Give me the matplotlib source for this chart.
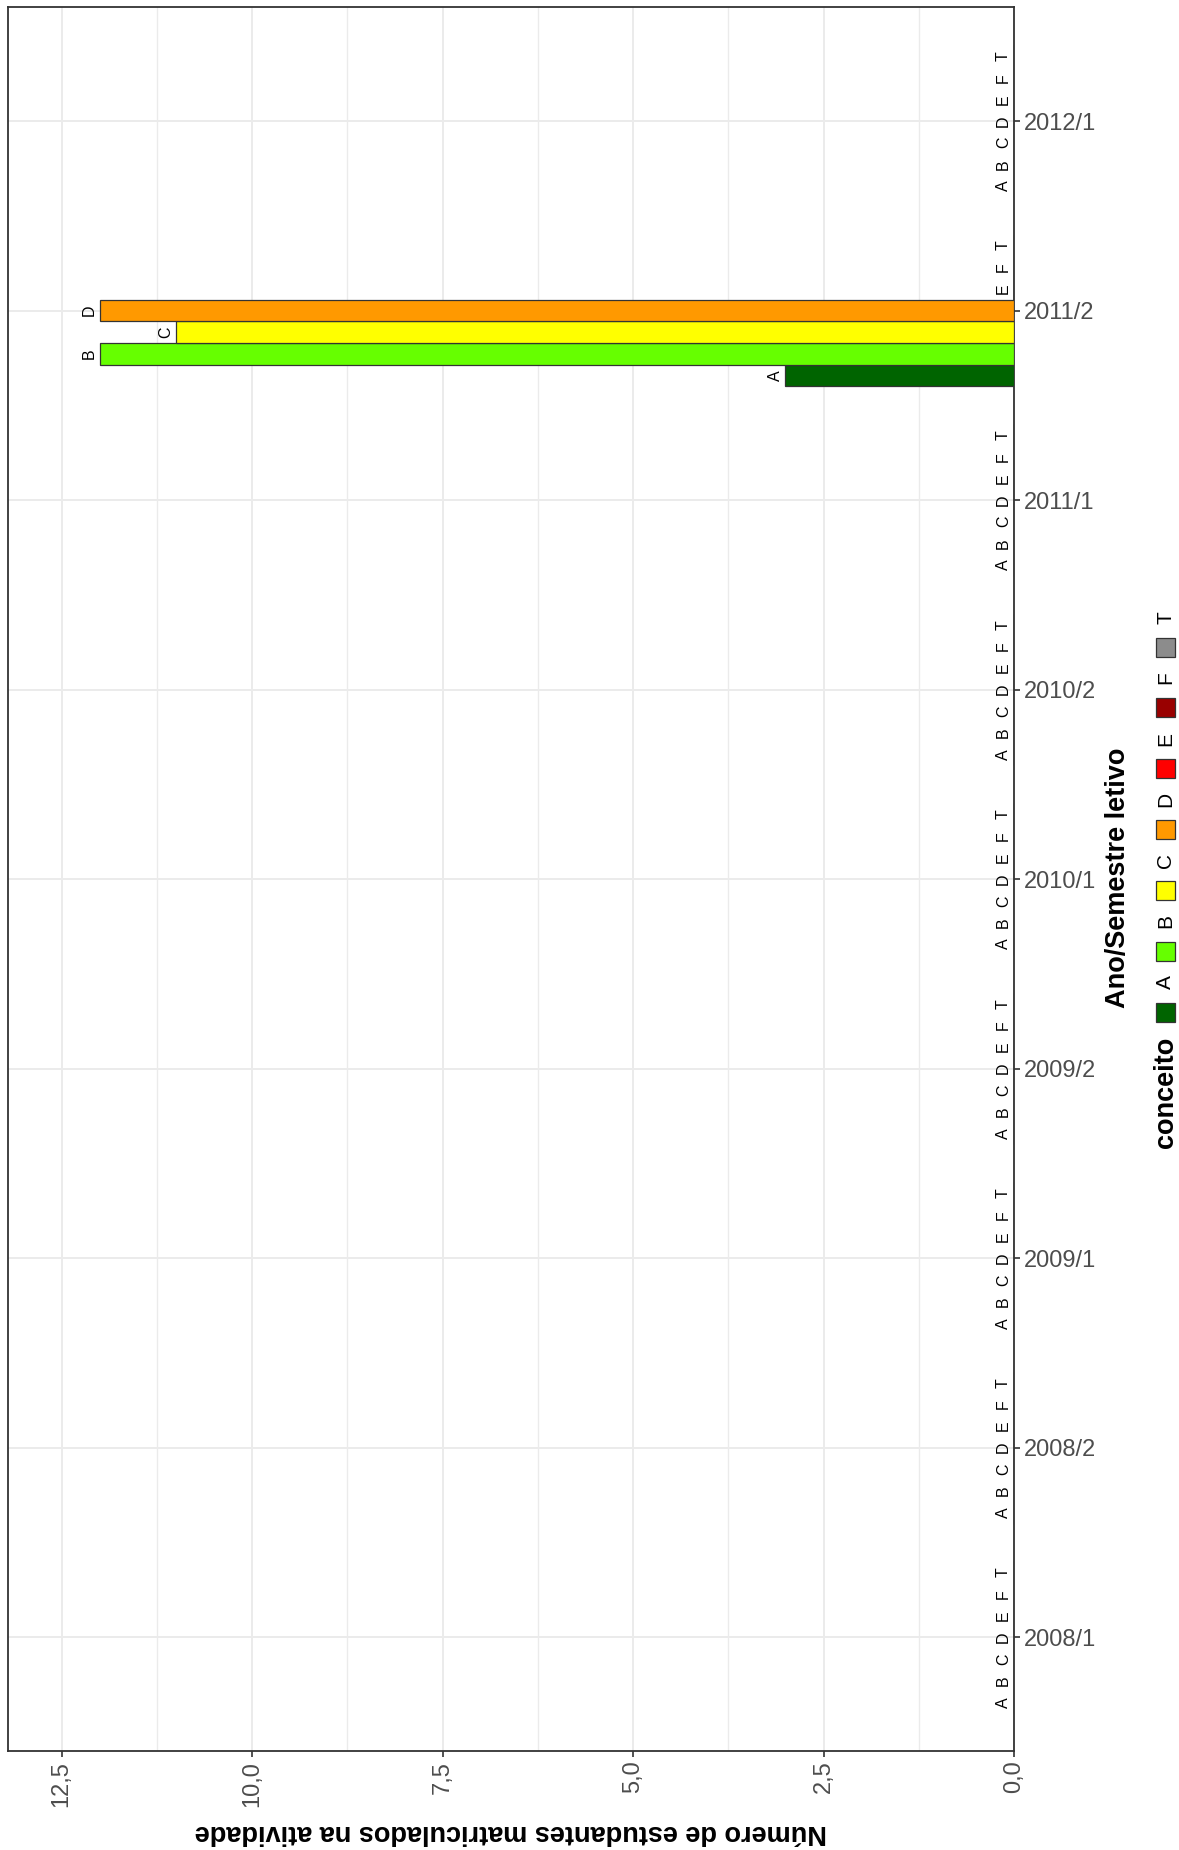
import numpy as np
import matplotlib
matplotlib.use("Agg")
import matplotlib.pyplot as plt
from matplotlib.patches import Rectangle
from matplotlib.ticker import MultipleLocator, FuncFormatter

plt.rcParams['font.family'] = ['Liberation Sans', 'DejaVu Sans']

# ------------------------------------------------------------------
# dados
# ------------------------------------------------------------------
semestres = ['2008/1', '2008/2', '2009/1', '2009/2', '2010/1',
             '2010/2', '2011/1', '2011/2', '2012/1']
conceitos = ['A', 'B', 'C', 'D', 'E', 'F', 'T']

n_A = [0, 0, 0, 0, 0, 0, 0, 3, 0]
n_B = [0, 0, 0, 0, 0, 0, 0, 12, 0]
n_C = [0, 0, 0, 0, 0, 0, 0, 11, 0]
n_D = [0, 0, 0, 0, 0, 0, 0, 12, 0]
n_E = [0, 0, 0, 0, 0, 0, 0, 0, 0]
n_F = [0, 0, 0, 0, 0, 0, 0, 0, 0]
n_T = [0, 0, 0, 0, 0, 0, 0, 0, 0]

cores = ['#006400', '#66FF00', '#FFFF00', '#FF9900', '#FF0000', '#990000', '#8C8C8C']

contagens = [n_A, n_B, n_C, n_D, n_E, n_F, n_T]

# ------------------------------------------------------------------
# figura (orientacao final: grafico girado)
# ------------------------------------------------------------------
W, H = 1179, 1850
fig = plt.figure(figsize=(W / 100, H / 100), dpi=100)
ax = fig.add_axes([8.3 / W, 1 - 1751 / H, (1014 - 8.3) / W, (1751 - 7.3) / H])

grid_col = '#EBEBEB'
dark = '#333333'

pos = np.arange(len(semestres))
larg = 0.8 / len(conceitos)

for j, (c, vals, cor) in enumerate(zip(conceitos, contagens, cores)):
    y = pos + (j - (len(conceitos) - 1) / 2) * larg
    ax.barh(y, vals, height=larg, color=cor, edgecolor=dark, linewidth=0.9, zorder=3)
    for yy, v in zip(y, vals):
        ax.annotate(c, xy=(v, yy), xytext=(-7.5, 0), textcoords='offset points',
                    rotation=90, ha='center', va='center', fontsize=11.5,
                    color='black', zorder=4)

ax.set_xlim(13.2, 0)
ax.set_ylim(-0.6, len(semestres) - 0.4)

ax.xaxis.set_major_locator(MultipleLocator(2.5))
ax.xaxis.set_minor_locator(MultipleLocator(1.25))
ax.xaxis.set_major_formatter(FuncFormatter(lambda v, p: f"{v:.1f}".replace('.', ',')))
ax.set_yticks(pos)
ax.set_yticklabels(semestres)
ax.yaxis.tick_right()

ax.grid(which='major', axis='both', color=grid_col, linewidth=1.4, zorder=0)
ax.grid(which='minor', axis='x', color=grid_col, linewidth=1.0, zorder=0)
ax.set_axisbelow(True)

ax.tick_params(axis='x', which='major', labelrotation=90, labelsize=17,
               labelcolor='#4D4D4D', color=dark, length=4, width=1.2, pad=3)
ax.tick_params(axis='x', which='minor', length=0)
ax.tick_params(axis='y', which='major', labelsize=17, labelcolor='#4D4D4D',
               color=dark, length=4, width=1.2, pad=3)

for s in ax.spines.values():
    s.set_color(dark)
    s.set_linewidth(1.3)

# titulos dos eixos
fig.text(511 / W, 1 - 1832 / H, 'Número de estudantes matriculados na atividade',
         rotation=180, ha='center', va='center', fontsize=19.5, fontweight='bold')
fig.text(1117.5 / W, 1 - 878 / H, 'Ano/Semestre letivo',
         rotation=90, ha='center', va='center', fontsize=19.5, fontweight='bold')

# legenda (girada)
key_x = 1165.5
key_y0 = 1012
passo = 60.8
lado = 19
for j, (c, cor) in enumerate(zip(conceitos, cores)):
    yc = key_y0 - j * passo
    fig.add_artist(Rectangle(((key_x - lado / 2) / W, 1 - (yc + lado / 2) / H),
                             lado / W, lado / H, transform=fig.transFigure,
                             facecolor=cor, edgecolor=dark, linewidth=0.9))
    fig.text(key_x / W, 1 - (yc - 30) / H, c, rotation=90, ha='center',
             va='center', fontsize=15, color='black')
fig.text(key_x / W, 1 - 1092 / H, 'conceito', rotation=90, ha='center',
         va='center', fontsize=19.5, fontweight='bold')

fig.savefig('out.png', dpi=100, facecolor='white')
